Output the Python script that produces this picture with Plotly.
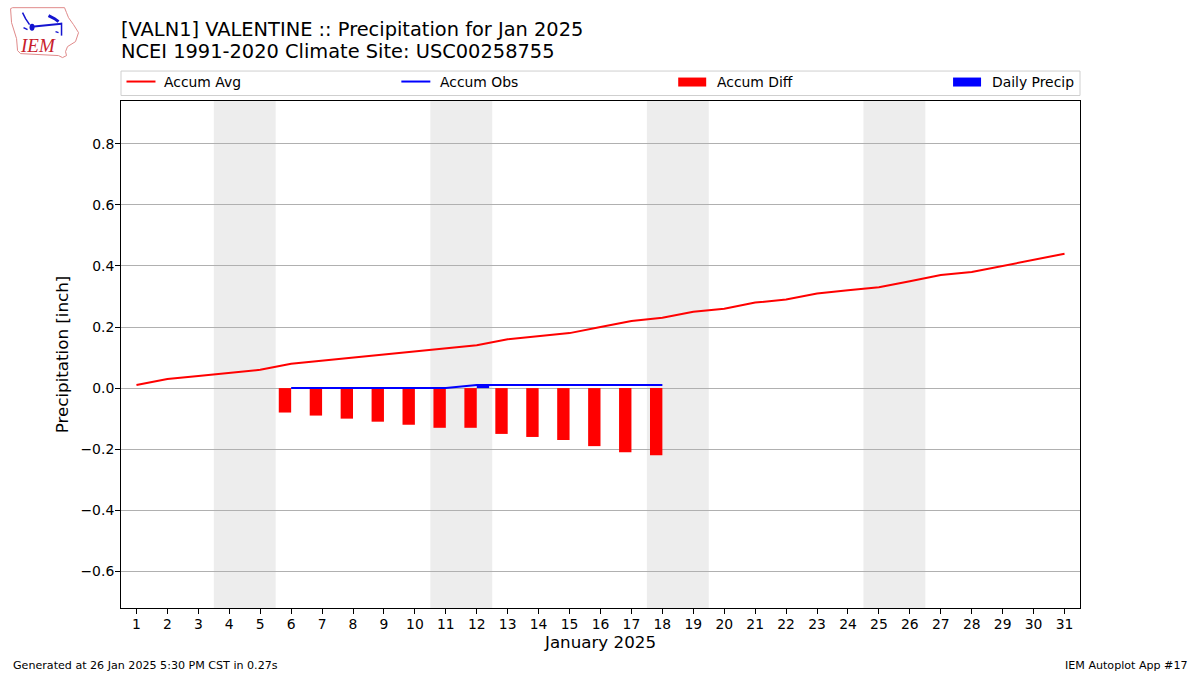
import plotly.graph_objs as go

FONT = "DejaVu Sans"
W, H = 1200, 675
PLOT_L, PLOT_R, PLOT_T, PLOT_B = 120.5, 1080, 100.5, 608.5

days = list(range(1, 32))
accum_avg = [0.01, 0.03, 0.04, 0.05, 0.06, 0.08, 0.09, 0.10, 0.11, 0.12, 0.13,
             0.14, 0.16, 0.17, 0.18, 0.20, 0.22, 0.23, 0.25, 0.26, 0.28, 0.29,
             0.31, 0.32, 0.33, 0.35, 0.37, 0.38, 0.40, 0.42, 0.44]
obs_days = list(range(6, 19))
accum_obs = [0, 0, 0, 0, 0, 0, 0.01, 0.01, 0.01, 0.01, 0.01, 0.01, 0.01]
accum_diff = [-0.08, -0.09, -0.10, -0.11, -0.12, -0.13, -0.13, -0.15, -0.16,
              -0.17, -0.19, -0.21, -0.22]
daily_precip = [0, 0, 0, 0, 0, 0, 0.01, 0, 0, 0, 0, 0, 0]
weekends = [(3.5, 5.5), (10.5, 12.5), (17.5, 19.5), (24.5, 26.5)]
y_ticks = [-0.6, -0.4, -0.2, 0.0, 0.2, 0.4, 0.6, 0.8]

legend_items = [("Accum Avg", "line", "red", 126, 162),
                ("Accum Obs", "line", "blue", 401, 438),
                ("Accum Diff", "bar", "red", 678, 715),
                ("Daily Precip", "bar", "blue", 953, 990)]


def px_x(x):
    '''Pixel da pagina para coordenada paper em x'''
    return (x - PLOT_L) / (PLOT_R - PLOT_L)


def px_y(y):
    '''Pixel da pagina para coordenada paper em y'''
    return (PLOT_B - y) / (PLOT_B - PLOT_T)


def paper_path(points, close=False):
    d = "M" + " L".join(f"{px_x(x):.5f},{px_y(y):.5f}" for x, y in points)
    return d + (" Z" if close else "")


def paper_line(points, color, width):
    return dict(type="path", xref="paper", yref="paper", path=paper_path(points),
                line=dict(color=color, width=width), layer="above")


fig = go.Figure()
fig.add_trace(go.Bar(x=obs_days, y=accum_diff, width=0.4, offset=-0.4,
                     marker=dict(color="red", line_width=0), name="Accum Diff"))
fig.add_trace(go.Bar(x=obs_days, y=daily_precip, width=0.4, offset=0,
                     marker=dict(color="blue", line_width=0), name="Daily Precip"))
fig.add_trace(go.Scatter(x=days, y=accum_avg, mode="lines",
                         line=dict(color="red", width=2), name="Accum Avg"))
fig.add_trace(go.Scatter(x=obs_days, y=accum_obs, mode="lines",
                         line=dict(color="blue", width=2), name="Accum Obs"))

shapes = []
# Faixas de fim de semana
for start, end in weekends:
    shapes.append(dict(type="rect", xref="x", yref="paper", x0=start, x1=end, y0=0, y1=1,
                       fillcolor="#ededed", line_width=0, layer="below"))

# Caixa da legenda
shapes.append(dict(type="rect", xref="paper", yref="paper",
                   x0=px_x(120.5), x1=px_x(1080), y0=px_y(95), y1=px_y(70.5),
                   line=dict(color="#cfcfcf", width=1), fillcolor="white", layer="above"))

annotations = []
for label, kind, color, x0, text_x in legend_items:
    if kind == "line":
        shapes.append(paper_line([(x0, 81), (x0 + 29, 81)], color, 2))
    else:
        shapes.append(dict(type="rect", xref="paper", yref="paper",
                           x0=px_x(x0), x1=px_x(x0 + 28), y0=px_y(86), y1=px_y(77),
                           fillcolor=color, line_width=0, layer="above"))
    annotations.append(dict(text=label, xref="paper", yref="paper", x=px_x(text_x), y=px_y(81.5),
                            xanchor="left", yanchor="middle", showarrow=False,
                            font=dict(family=FONT, size=13.9, color="black")))

# Logo aproximado do IEM
iowa = [(10, 8), (12, 7), (64, 7), (66, 12), (68, 17), (73, 24), (78, 32), (75, 41),
        (67, 46), (65, 51), (66, 55), (62, 57), (58, 55), (20, 53), (17, 50), (16, 38), (11, 22)]
shapes.append(dict(type="path", xref="paper", yref="paper", path=paper_path(iowa, close=True),
                   line=dict(color="#e08a8a", width=1), layer="above"))
shapes.append(paper_line([(31, 26), (61, 23)], "#1414d0", 2))
shapes.append(paper_line([(22, 12), (25, 18), (29, 24)], "#1414d0", 1.5))
shapes.append(paper_line([(48, 15), (54, 18), (58, 21)], "#1414d0", 3))
shapes.append(paper_line([(61, 22), (61, 35)], "#1414d0", 1.5))
shapes.append(paper_line([(55, 31), (58, 32)], "#1414d0", 1.5))
shapes.append(paper_line([(23, 27), (27, 29)], "#1414d0", 1.5))
shapes.append(dict(type="circle", xref="paper", yref="paper", x0=px_x(29), x1=px_x(34),
                   y0=px_y(30), y1=px_y(23), fillcolor="#1414d0", line_width=0, layer="above"))
annotations.append(dict(text="<i>IEM</i>", xref="paper", yref="paper", x=px_x(17.5), y=px_y(45),
                        xanchor="left", yanchor="middle", showarrow=False,
                        font=dict(family="Liberation Serif", size=19, color="#c8202a")))

# Titulo
annotations.append(dict(text="[VALN1] VALENTINE :: Precipitation for Jan 2025", xref="paper", yref="paper",
                        x=px_x(118.5), y=px_y(29), xanchor="left", yanchor="middle", showarrow=False,
                        font=dict(family=FONT, size=19.4, color="black")))
annotations.append(dict(text="NCEI 1991-2020 Climate Site: USC00258755", xref="paper", yref="paper",
                        x=px_x(118.5), y=px_y(51), xanchor="left", yanchor="middle", showarrow=False,
                        font=dict(family=FONT, size=19.4, color="black")))

# Rodape
annotations.append(dict(text="Generated at 26 Jan 2025 5:30 PM CST in 0.27s", xref="paper", yref="paper",
                        x=px_x(10), y=px_y(666), xanchor="left", yanchor="middle", showarrow=False,
                        font=dict(family=FONT, size=11.1, color="black")))
annotations.append(dict(text="IEM Autoplot App #17", xref="paper", yref="paper",
                        x=px_x(1190), y=px_y(666), xanchor="right", yanchor="middle", showarrow=False,
                        font=dict(family=FONT, size=11.1, color="black")))

fig.update_layout(
    width=W,
    height=H,
    autosize=False,
    margin=dict(l=PLOT_L, r=W - PLOT_R, t=PLOT_T, b=H - PLOT_B, pad=0),
    paper_bgcolor="white",
    plot_bgcolor="white",
    showlegend=False,
    barmode="overlay",
    hovermode=False,
    shapes=shapes,
    annotations=annotations,
    font=dict(family=FONT, size=13.9, color="black"),
)
fig.update_xaxes(range=[0.5, 31.5], tickvals=days, ticks="outside", ticklen=5, tickwidth=1,
                 tickcolor="black", showgrid=False, zeroline=False, showline=True, mirror=True,
                 linecolor="black", linewidth=1, tickangle=0, ticklabelstandoff=-2,
                 title=dict(text="January 2025", font=dict(family=FONT, size=16.7), standoff=5))
fig.update_yaxes(range=[-0.72, 0.94], tickvals=y_ticks, tickformat=".1f", ticks="outside", ticklen=5,
                 tickwidth=1, tickcolor="black", showgrid=True, gridcolor="#b0b0b0", gridwidth=1,
                 zeroline=False, showline=True, mirror=True, linecolor="black", linewidth=1,
                 ticklabelstandoff=-2,
                 title=dict(text="Precipitation [inch]", font=dict(family=FONT, size=16.7), standoff=7))

# Tira a margem padrao do body para a figura ocupar a janela toda
fig.write_html("out.html", config=dict(displayModeBar=False),
               post_script="document.body.style.margin='0';")
